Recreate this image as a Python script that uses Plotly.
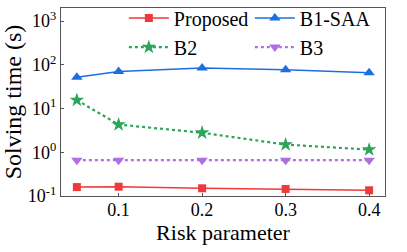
import plotly.graph_objects as go

risk = [0.05, 0.1, 0.2, 0.3, 0.4]
proposed = [0.16, 0.163, 0.15, 0.145, 0.135]
b1_saa = [52, 70, 85, 77, 66]
b2 = [15.6, 4.3, 2.8, 1.5, 1.15]
b3 = [0.66, 0.66, 0.66, 0.66, 0.66]

y_tickvals = [0.1, 1, 10, 100, 1000]
y_ticktext = ["10<sup>-1</sup>", "10<sup>0</sup>", "10<sup>1</sup>", "10<sup>2</sup>", "10<sup>3</sup>"]
x_tickvals = [0.1, 0.2, 0.3, 0.4]
x_ticktext = ["0.1", "0.2", "0.3", "0.4"]

FONT = "Liberation Serif"

fig = go.Figure()
fig.add_trace(go.Scatter(x=risk, y=proposed, name="Proposed", mode="lines+markers",
                         line=dict(color="#f0393b", width=1.5),
                         marker=dict(symbol="square", size=8, color="#f0393b")))
fig.add_trace(go.Scatter(x=risk, y=b1_saa, name="B1-SAA", mode="lines+markers",
                         line=dict(color="#1f6ee0", width=1.5),
                         marker=dict(symbol="triangle-up", size=10, color="#1f6ee0")))
fig.add_trace(go.Scatter(x=risk, y=b2, name="B2", mode="lines+markers",
                         line=dict(color="#2aa55a", width=2.2, dash="dot"),
                         marker=dict(symbol="star", size=11, color="#2aa55a")))
fig.add_trace(go.Scatter(x=risk, y=b3, name="B3", mode="lines+markers",
                         line=dict(color="#b06fe0", width=2.2, dash="dot"),
                         marker=dict(symbol="triangle-down", size=10, color="#b06fe0")))

axis_common = dict(showline=True, linecolor="#555555", linewidth=1.2, mirror=True,
                   ticks="inside", ticklen=3, tickcolor="#555555", showgrid=False,
                   zeroline=False, automargin=False,
                   tickfont=dict(family=FONT, size=18, color="black"))

fig.update_layout(
    template="none",
    width=407, height=252,
    margin=dict(l=61, r=22, t=8, b=56, autoexpand=False),
    plot_bgcolor="white", paper_bgcolor="white",
    font=dict(family=FONT, color="black"),
    showlegend=True,
    legend=dict(orientation="h", x=0.194, y=1.05, xanchor="left", yanchor="top",
                entrywidth=71, entrywidthmode="pixels",
                font=dict(family=FONT, size=20, color="black"),
                bgcolor="rgba(0,0,0,0)", tracegroupgap=0, itemwidth=40),
    xaxis=dict(range=[0.031, 0.419], tickvals=x_tickvals, ticktext=x_ticktext,
               ticklabelstandoff=-3,
               title=dict(text="Risk parameter", font=dict(family=FONT, size=22), standoff=2),
               **axis_common),
    yaxis=dict(type="log", range=[-1, 3.3], tickvals=y_tickvals, ticktext=y_ticktext,
               title=dict(text="Solving time (s)", font=dict(family=FONT, size=24), standoff=0),
               **axis_common),
)

fig.write_html("out.html", config={"displayModeBar": False},
               post_script="document.body.style.margin='0';")
